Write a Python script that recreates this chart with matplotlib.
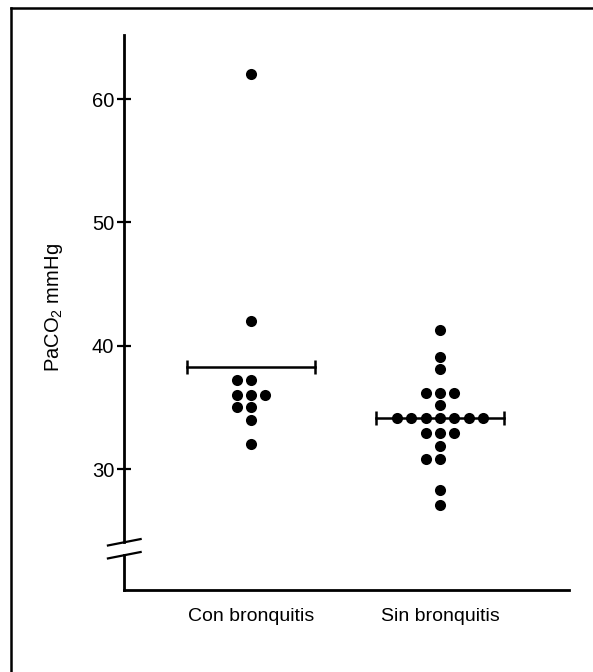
import numpy as np
import matplotlib.pyplot as plt
from matplotlib.lines import Line2D

plt.rcParams['font.family'] = ['Liberation Sans', 'DejaVu Sans']
plt.rcParams['mathtext.default'] = 'regular'

# PaCO2 values
groups = ['Con bronquitis', 'Sin bronquitis']
con_vals = [62, 42, 37.2, 37.2, 36, 36, 36, 35, 35, 34, 32]
sin_vals = [41.3, 39.1, 38.1, 36.2, 36.2, 36.2, 35.2,
            34.1, 34.1, 34.1, 34.1, 34.1, 34.1, 34.1,
            32.9, 32.9, 32.9, 31.9, 30.8, 30.8, 28.3, 27.1]
means = [38.3, 34.1]
yticks = [30, 40, 50, 60]

fig = plt.figure(figsize=(5.93, 6.72), dpi=100)
ax = fig.add_axes([124/593, 1-590/672, (569-124)/593, (590-35)/672])

def spread(vals, x0, step=0.076):
    # stack equal values side by side, centred on x0
    vals = np.asarray(vals)
    xs = np.zeros(len(vals))
    for v in np.unique(vals):
        idx = np.where(vals == v)[0]
        n = len(idx)
        xs[idx] = x0 + (np.arange(n) - n//2)*step
    return xs, vals

for i, vals in enumerate([con_vals, sin_vals]):
    xs, ys = spread(vals, i)
    ax.plot(xs, ys, 'o', color='black', ms=8, mew=0, clip_on=False, zorder=3)
    ax.plot([i-0.337, i+0.337], [means[i], means[i]], color='black', lw=1.8,
            marker='|', ms=10, mew=1.8, zorder=2)

ax.set_xlim(-0.672, 1.683)
ax.set_ylim(20.19, 65.19)
ax.set_xticks([0, 1])
ax.set_xticklabels(groups, fontsize=14)
ax.set_yticks(yticks)
ax.set_yticklabels([str(t) for t in yticks], fontsize=14.5)
ax.tick_params(axis='x', length=0, pad=13)
ax.tick_params(axis='y', direction='inout', length=10, width=1.6, pad=2)

for s in ['top', 'right']:
    ax.spines[s].set_visible(False)
ax.spines['left'].set_linewidth(2)
ax.spines['bottom'].set_linewidth(2)

# axis break
brk_lo, brk_hi = 23.0, 24.05
ax.spines['left'].set_bounds(brk_hi, 65.19)
ax.plot([-0.672, -0.672], [20.19, brk_lo], color='black', lw=2, clip_on=False,
        solid_capstyle='projecting')
for b in [brk_lo, brk_hi]:
    ax.plot([-0.757, -0.584], [b - 0.25, b + 0.27], color='black', lw=1.6, clip_on=False)

fig.text(54/593, 1-308/672, 'PaCO$_2$ mmHg', rotation=90, ha='center', va='center',
         fontsize=14.5)

# page frame (top and left edges)
fig.add_artist(Line2D([11/593, 1], [1-8/672, 1-8/672], color='black', lw=1.8))
fig.add_artist(Line2D([11/593, 11/593], [0, 1-8/672], color='black', lw=1.8))

fig.savefig('out.png', dpi=100)
